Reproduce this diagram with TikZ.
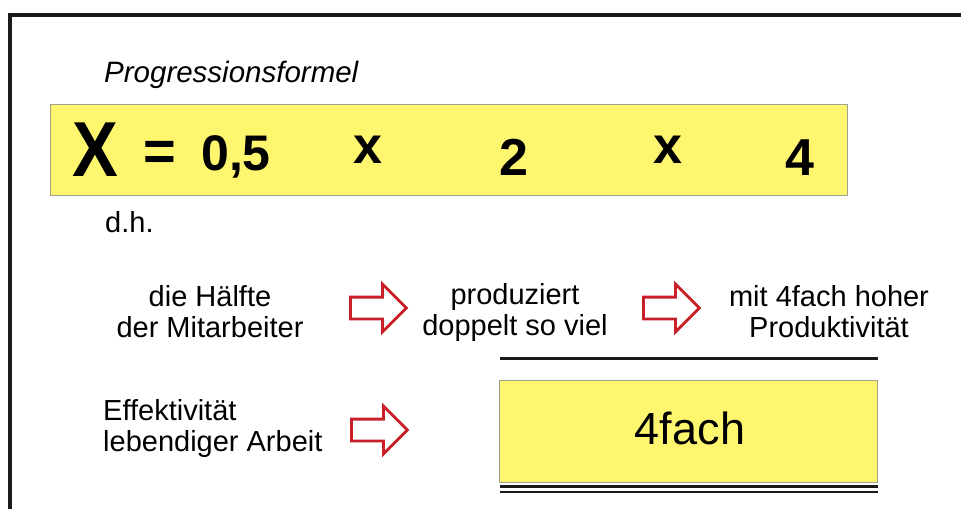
\documentclass[tikz,border=0pt]{standalone}
\usepackage{fontspec}
\setmainfont{Liberation Sans}
\usetikzlibrary{shapes.arrows}
\definecolor{boxyellow}{RGB}{255,246,112}
\definecolor{boxedge}{RGB}{160,160,140}
\definecolor{arrowred}{RGB}{200,32,40}
\definecolor{framec}{RGB}{30,25,25}
\tikzset{
  txt/.style={font=\fontsize{29}{31}\selectfont, inner sep=0pt, align=center},
  formula/.style={font=\bfseries\fontsize{50}{50}\selectfont, inner sep=0pt, anchor=base},
  hollowarrow/.style={single arrow, draw=arrowred, fill=white, line width=2.8pt,
    minimum height=56pt, inner xsep=0pt, inner ysep=9.5pt, single arrow head extend=13pt,
    single arrow tip angle=90, anchor=tail},
  ybox/.style={fill=boxyellow, draw=boxedge, line width=0.8pt}
}
\begin{document}
\begin{tikzpicture}[x=1pt,y=-1pt]
\useasboundingbox (0,0) rectangle (961,509);
% frame
\draw[framec, line width=4pt] (10,509) -- (10,15) -- (961,15);
% title
\node[txt, anchor=base west, font=\itshape\fontsize{29.5}{31}\selectfont] (title) at (104,82) {Progressionsformel};
% formula box
\draw[ybox] (50,104) rectangle (847,195);
\node[formula, font=\bfseries\fontsize{78}{78}\selectfont] (X) at (95,176) {\scalebox{0.88}[1]{X}};
\node[formula, font=\bfseries\fontsize{56}{56}\selectfont] (eq) at (160,170) {=};
\node[formula] (half) at (236,170) {0,5};
\node[formula, font=\bfseries\fontsize{52}{52}\selectfont] (m1) at (368,163) {x};
\node[formula, font=\bfseries\fontsize{52}{52}\selectfont] (two) at (514,175) {2};
\node[formula, font=\bfseries\fontsize{52}{52}\selectfont] (m2) at (668,163) {x};
\node[formula, font=\bfseries\fontsize{52}{52}\selectfont] (four) at (800,175) {4};
% d.h.
\node[txt, anchor=base west] (dh) at (105,232) {d.h.};
% row of statements
\node[txt] (a) at (210,312) {die Hälfte\\der Mitarbeiter};
\node[txt] (b) at (515,312) {produziert\\doppelt so viel};
\node[txt] (c) at (829,312) {mit 4fach hoher\\Produktivität};
\node[hollowarrow] (ar1) at (349,308) {};
\node[hollowarrow] (ar2) at (642,308) {};
% rule
\draw[framec, line width=3pt] (500,358) -- (878,358);
% bottom row
\node[txt, align=left, anchor=west] (eff) at (103,428) {Effektivität\\lebendiger Arbeit};
\node[hollowarrow] (ar3) at (350,430) {};
\draw[ybox] (499,380) rectangle (877,482);
\node[txt, font=\fontsize{45}{45}\selectfont] (res) at (690,428) {4fach};
\draw[framec, line width=2.6pt] (500,486.5) -- (878,486.5);
\draw[framec, line width=2.6pt] (500,492) -- (878,492);
\end{tikzpicture}
\end{document}
